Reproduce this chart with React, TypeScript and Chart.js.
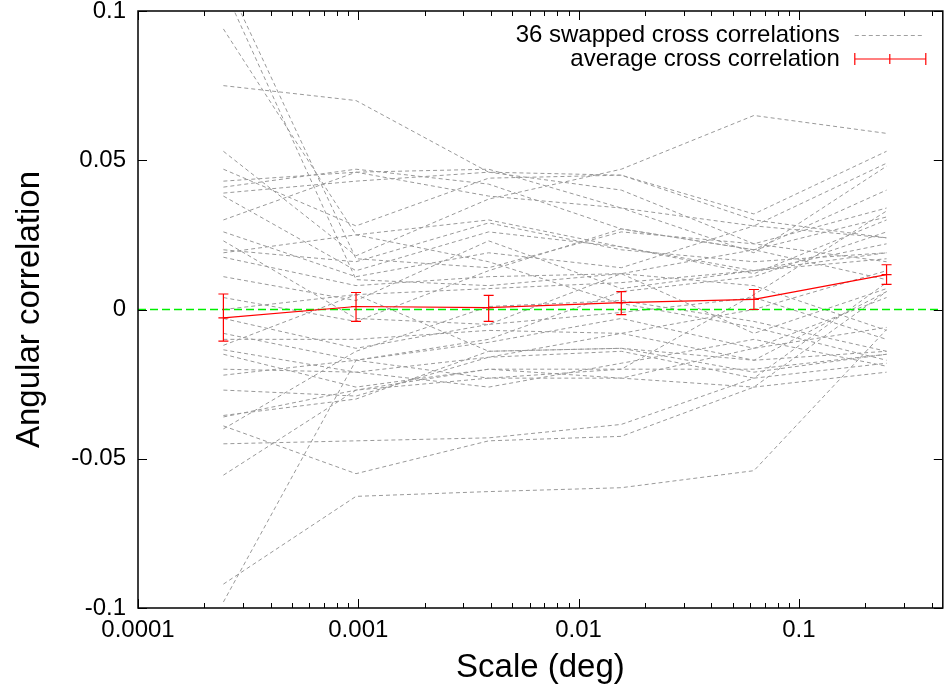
import React, { useEffect, useRef } from 'react';
import { Chart, registerables } from 'chart.js';

Chart.register(...registerables);

// Angular scales (deg) at which the correlations were measured
const scalesDeg = [0.000244140625, 0.0009765625, 0.00390625, 0.015625, 0.0625, 0.25];

// 36 swapped cross correlations (one row per swap)
const s01 = [0.075, 0.070, 0.046, 0.045, 0.030, 0.024];
const s02 = [0.094, 0.025, 0.030, 0.021, 0.013, 0.019];
const s03 = [0.108, 0.010, 0.008, 0.012, 0.020, 0.031];
const s04 = [0.112, 0.017, 0.014, 0.026, 0.022, 0.016];
const s05 = [0.053, 0.018, 0.037, 0.047, 0.065, 0.059];
const s06 = [0.047, 0.028, 0.044, 0.045, 0.032, 0.053];
const s07 = [0.043, 0.046, 0.047, 0.034, 0.028, 0.049];
const s08 = [0.041, 0.047, 0.042, 0.027, 0.020, 0.040];
const s09 = [0.039, 0.043, 0.046, 0.040, 0.022, 0.034];
const s10 = [0.038, 0.013, 0.026, 0.021, 0.012, 0.030];
const s11 = [0.026, 0.011, 0.019, 0.014, 0.028, 0.024];
const s12 = [0.020, 0.016, 0.029, 0.020, 0.016, 0.019];
const s13 = [0.0175, 0.008, 0.011, 0.012, 0.008, -0.007];
const s14 = [0.011, 0.003, 0.023, 0.007, 0.013, 0.017];
const s15 = [0.004, -0.004, 0.013, 0.027, 0.020, 0.010];
const s16 = [-0.003, -0.013, -0.005, 0.012, -0.008, 0.007];
const s17 = [-0.008, -0.017, -0.011, -0.003, -0.013, 0.004];
const s18 = [-0.010, -0.010, -0.007, -0.008, -0.017, -0.014];
const s19 = [-0.012, 0.005, -0.014, -0.013, -0.021, -0.015];
const s20 = [-0.0135, -0.021, -0.016, -0.014, -0.023, 0.009];
const s21 = [-0.015, -0.026, -0.020, -0.020, 0.005, 0.033];
const s22 = [-0.022, -0.017, -0.023, -0.023, -0.026, -0.021];
const s23 = [-0.027, -0.029, -0.016, -0.008, 0.000, 0.013];
const s24 = [-0.0355, -0.030, -0.014, -0.013, -0.017, 0.006];
const s25 = [-0.036, -0.027, -0.020, -0.023, -0.013, -0.006];
const s26 = [-0.039, -0.055, -0.044, -0.0425, -0.026, 0.006];
const s27 = [-0.040, -0.014, 0.001, 0.003, -0.004, -0.014];
const s28 = [-0.045, -0.044, -0.043, -0.0385, -0.023, -0.018];
const s29 = [-0.0555, -0.027, -0.023, -0.020, -0.020, -0.015];
const s30 = [-0.092, -0.0626, -0.061, -0.0597, -0.054, -0.0067];
const s31 = [-0.098, -0.017, -0.010, 0.006, 0.011, 0.026];
const s32 = [0.030, 0.046, 0.038, 0.034, 0.019, 0.048];
const s33 = [0.023, -0.003, -0.005, -0.001, 0.004, -0.010];
const s34 = [0.000, 0.005, 0.007, 0.009, 0.013, 0.022];
const s35 = [-0.020, -0.021, -0.026, -0.018, -0.010, -0.019];
const s36 = [0.019, 0.025, 0.016, 0.002, -0.006, -0.017];

const swapped = [s01, s02, s03, s04, s05, s06, s07, s08, s09, s10, s11, s12,
  s13, s14, s15, s16, s17, s18, s19, s20, s21, s22, s23, s24,
  s25, s26, s27, s28, s29, s30, s31, s32, s33, s34, s35, s36];

// average cross correlation with error bars
const avgValue = [-0.0028, 0.0010, 0.0006, 0.0023, 0.0034, 0.0117];
const avgLow = [-0.0106, -0.0040, -0.0040, -0.0017, 0.0000, 0.0084];
const avgHigh = [0.0052, 0.0057, 0.0047, 0.0060, 0.0067, 0.0150];

// reference line y = 0
const zeroLine = [0, 0];

const xTickValues = [0.0001, 0.001, 0.01, 0.1];
const yTickValues = [-0.1, -0.05, 0, 0.05, 0.1];
const xMin = 0.0001;
const xMax = 0.45;

const labelSwapped = '36 swapped cross correlations';
const labelAverage = 'average cross correlation';
const FONT = '"Liberation Sans", Arial, Helvetica, sans-serif';

const errorBarPlugin = {
  id: 'errorBars',
  afterDatasetsDraw(chart: any) {
    const { ctx, scales } = chart;
    const xs = scales.x, ys = scales.y;
    ctx.save();
    ctx.strokeStyle = '#ff0000';
    ctx.lineWidth = 1.2;
    for (let i = 0; i < scalesDeg.length; i++) {
      const x = xs.getPixelForValue(scalesDeg[i]);
      const y1 = ys.getPixelForValue(avgLow[i]);
      const y2 = ys.getPixelForValue(avgHigh[i]);
      ctx.beginPath();
      ctx.moveTo(x, y1); ctx.lineTo(x, y2);
      ctx.moveTo(x - 5, y1); ctx.lineTo(x + 5, y1);
      ctx.moveTo(x - 5, y2); ctx.lineTo(x + 5, y2);
      ctx.stroke();
    }
    ctx.restore();
  },
};

const framePlugin = {
  id: 'frameTicksLegend',
  afterDraw(chart: any) {
    const { ctx, chartArea: a, scales } = chart;
    const xs = scales.x, ys = scales.y;
    ctx.save();
    ctx.strokeStyle = '#000';
    ctx.lineWidth = 1.5;
    ctx.strokeRect(a.left, a.top, a.right - a.left, a.bottom - a.top);
    ctx.lineWidth = 1;
    ctx.beginPath();
    // x major + minor ticks (bottom and top, inward)
    for (const d of xTickValues) {
      const xp = Math.round(xs.getPixelForValue(d)) + 0.5;
      ctx.moveTo(xp, a.bottom); ctx.lineTo(xp, a.bottom - 9);
      ctx.moveTo(xp, a.top); ctx.lineTo(xp, a.top + 9);
      for (let m = 2; m <= 9; m++) {
        const v = d * m;
        if (v > xMax) break;
        const mp = Math.round(xs.getPixelForValue(v)) + 0.5;
        ctx.moveTo(mp, a.bottom); ctx.lineTo(mp, a.bottom - 5);
        ctx.moveTo(mp, a.top); ctx.lineTo(mp, a.top + 5);
      }
    }
    // y ticks (left and right, inward)
    for (const v of yTickValues) {
      const yp = Math.round(ys.getPixelForValue(v)) + 0.5;
      ctx.moveTo(a.left, yp); ctx.lineTo(a.left + 9, yp);
      ctx.moveTo(a.right, yp); ctx.lineTo(a.right - 9, yp);
    }
    ctx.stroke();

    // legend (gnuplot style: right-aligned text, sample on the right)
    const textRight = a.right - 103;
    const sx1 = a.right - 88;
    const sx2 = a.right - 20;
    const row1 = a.top + 24;
    const row2 = a.top + 48;
    ctx.font = '24px ' + FONT;
    ctx.fillStyle = '#000';
    ctx.textAlign = 'right';
    ctx.textBaseline = 'middle';
    ctx.fillText(labelSwapped, textRight, row1);
    ctx.fillText(labelAverage, textRight, row2);
    ctx.strokeStyle = '#a0a0a0';
    ctx.setLineDash([4, 3]);
    ctx.beginPath();
    ctx.moveTo(sx1, row1 + 0.5); ctx.lineTo(sx2, row1 + 0.5);
    ctx.stroke();
    ctx.setLineDash([]);
    ctx.strokeStyle = '#ff0000';
    ctx.lineWidth = 1.2;
    const mid = (sx1 + sx2) / 2 + 1;
    ctx.beginPath();
    ctx.moveTo(sx1, row2); ctx.lineTo(sx2 + 3, row2);
    ctx.moveTo(sx1, row2 - 6); ctx.lineTo(sx1, row2 + 6);
    ctx.moveTo(sx2 + 3, row2 - 6); ctx.lineTo(sx2 + 3, row2 + 6);
    ctx.moveTo(mid, row2 - 5); ctx.lineTo(mid, row2 + 5);
    ctx.stroke();
    ctx.restore();
  },
};

export default function App() {
  const canvasRef = useRef<HTMLCanvasElement | null>(null);

  useEffect(() => {
    const canvas = canvasRef.current;
    if (!canvas) return;

    const datasets: any[] = [];
    datasets.push({
      label: labelAverage,
      data: scalesDeg.map((x, i) => ({ x, y: avgValue[i] })),
      borderColor: '#ff0000',
      backgroundColor: '#ff0000',
      borderWidth: 1.2,
      pointStyle: 'line',
      pointRadius: 5,
      pointBorderWidth: 1.2,
      pointBorderColor: '#ff0000',
      tension: 0,
      fill: false,
    });
    datasets.push({
      label: 'zero',
      data: [{ x: xMin, y: zeroLine[0] }, { x: xMax, y: zeroLine[1] }],
      borderColor: 'rgb(0, 238, 0)',
      backgroundColor: 'rgb(0, 238, 0)',
      borderWidth: 1.3,
      borderDash: [8, 4],
      pointRadius: 0,
      tension: 0,
      fill: false,
    });
    swapped.forEach((row, k) => {
      datasets.push({
        label: k === 0 ? labelSwapped : '',
        data: scalesDeg.map((x, i) => ({ x, y: row[i] })),
        borderColor: '#999999',
        backgroundColor: '#999999',
        borderWidth: 1,
        borderDash: [4, 3],
        pointRadius: 0,
        tension: 0,
        fill: false,
      });
    });

    const chart = new Chart(canvas, {
      type: 'line',
      data: { datasets },
      options: {
        responsive: false,
        animation: false,
        events: [],
        layout: { padding: { top: 11, right: 4, left: 0, bottom: 0 } },
        plugins: {
          legend: { display: false },
          tooltip: { enabled: false },
        },
        scales: {
          x: {
            type: 'logarithmic',
            min: xMin,
            max: xMax,
            grid: { display: false, drawTicks: false },
            border: { display: false },
            afterBuildTicks: (s: any) => { s.ticks = xTickValues.map((v) => ({ value: v })); },
            afterFit: (s: any) => {
              s.height = 81;
              s.paddingLeft = 0; s.paddingRight = 0;
            },
            ticks: {
              color: '#000',
              padding: 8,
              maxRotation: 0,
              autoSkip: false,
              font: { family: FONT, size: 24 },
              callback: (v: any) => String(v),
            },
            title: {
              display: true,
              text: 'Scale (deg)',
              color: '#000',
              font: { family: FONT, size: 33 },
              padding: { top: 0, bottom: 1 },
            },
          },
          y: {
            type: 'linear',
            min: -0.1,
            max: 0.1,
            grid: { display: false, drawTicks: false },
            border: { display: false },
            afterBuildTicks: (s: any) => { s.ticks = yTickValues.map((v) => ({ value: v })); },
            afterFit: (s: any) => {
              s.width = 138;
              s.paddingTop = 0; s.paddingBottom = 0;
            },
            ticks: {
              color: '#000',
              padding: 12,
              font: { family: FONT, size: 24 },
              callback: (v: any) => String(v),
            },
            title: {
              display: true,
              text: 'Angular correlation',
              color: '#000',
              font: { family: FONT, size: 33 },
              padding: { top: 10, bottom: 0 },
            },
          },
        },
      },
      plugins: [errorBarPlugin, framePlugin],
    } as any);

    return () => chart.destroy();
  }, []);

  return (
    <div style={{ position: 'absolute', left: 0, top: 0, width: 949, height: 689, background: '#fff' }}>
      <canvas ref={canvasRef} width={949} height={689} style={{ display: 'block' }} />
    </div>
  );
}
